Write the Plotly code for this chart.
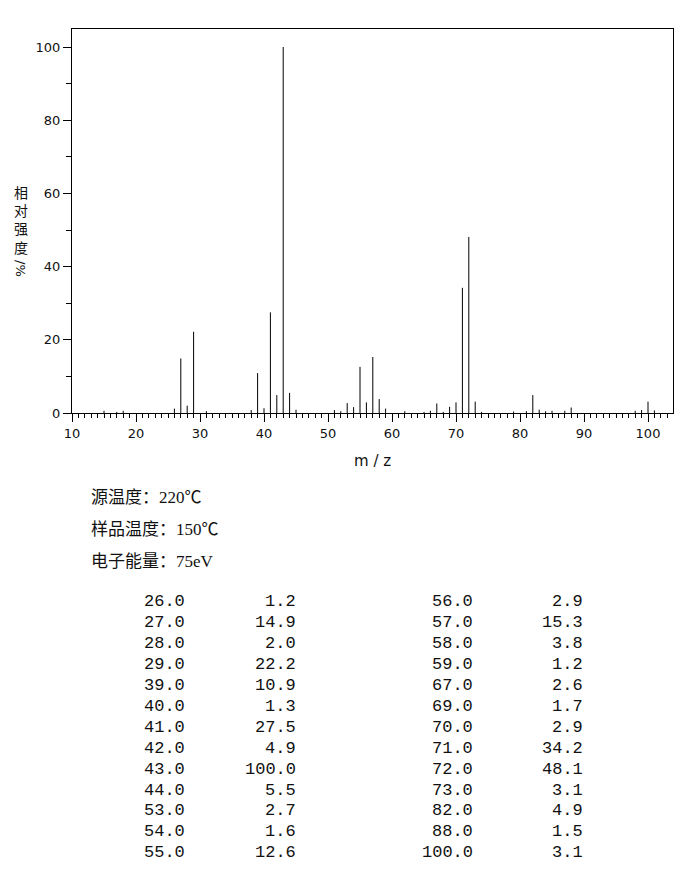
import plotly.graph_objects as go

# ---- data ----
table_mz = [26.0, 27.0, 28.0, 29.0, 39.0, 40.0, 41.0, 42.0, 43.0, 44.0, 53.0, 54.0, 55.0,
            56.0, 57.0, 58.0, 59.0, 67.0, 69.0, 70.0, 71.0, 72.0, 73.0, 82.0, 88.0, 100.0]
table_int = [1.2, 14.9, 2.0, 22.2, 10.9, 1.3, 27.5, 4.9, 100.0, 5.5, 2.7, 1.6, 12.6,
             2.9, 15.3, 3.8, 1.2, 2.6, 1.7, 2.9, 34.2, 48.1, 3.1, 4.9, 1.5, 3.1]
# small peaks visible in the spectrum but not listed in the table (estimated)
minor_mz = [15, 17, 18, 31, 38, 45, 51, 52, 62, 65, 66, 68, 74, 79, 81, 83, 84, 85, 87, 98, 99, 101]
minor_int = [0.6, 0.3, 0.6, 0.5, 0.8, 0.9, 0.8, 0.5, 0.5, 0.3, 0.6, 0.3, 0.3, 0.4, 0.5, 0.9,
             0.5, 0.6, 0.6, 0.6, 0.8, 0.7]

x_ticks = [10, 20, 30, 40, 50, 60, 70, 80, 90, 100]
y_ticks = [0, 20, 40, 60, 80, 100]

info_lines = ["源温度：220℃", "样品温度：150℃", "电子能量：75eV"]
y_title_chars = ["相", "对", "强", "度"]
y_title_unit = "/%"
x_title = "m/z"

# ---- geometry (pixels, in the 696x893 window; page body has an 8px margin) ----
OFF = 8
W, H = 696 - OFF, 893 - OFF
L, R, T, B = 72, 673, 29, 413
PW, PH = R - L, B - T
X0, PX_PER_UNIT = 10, 6.4
Y_PX_PER_UNIT = 3.66


def px(xp):
    return (xp - L) / PW


def py(yp):
    return (B - yp) / PH


all_mz = table_mz + minor_mz
all_int = table_int + minor_int
xs, ys = [], []
for m, v in zip(all_mz, all_int):
    xs += [m, m, None]
    ys += [0, v, None]

fig = go.Figure()
fig.add_trace(go.Scatter(x=xs, y=ys, mode="lines",
                         line=dict(color="black", width=1),
                         hoverinfo="skip", showlegend=False))

axis_font = dict(family="DejaVu Sans", size=13, color="#111")
fig.update_xaxes(range=[X0, X0 + PW / PX_PER_UNIT], tickvals=x_ticks,
                 ticks="outside", ticklen=8, tickwidth=1, tickcolor="black",
                 showline=True, linecolor="black", linewidth=1, mirror=True,
                 showgrid=False, zeroline=False, tickfont=axis_font,
                 minor=dict(dtick=1, tick0=0, ticks="outside", ticklen=4,
                            tickwidth=1, tickcolor="black", showgrid=False))
fig.update_yaxes(range=[0, PH / Y_PX_PER_UNIT], tickvals=y_ticks,
                 ticks="outside", ticklen=8, tickwidth=1, tickcolor="black",
                 showline=True, linecolor="black", linewidth=1, mirror=True,
                 showgrid=False, zeroline=False, tickfont=axis_font,
                 minor=dict(dtick=20, tick0=10, ticks="outside", ticklen=5,
                            tickwidth=1, tickcolor="black", showgrid=False))

ann = []
cjk = "Noto Sans CJK SC"
mixed = "Liberation Serif, Noto Sans CJK SC"
# y title: stacked characters, then the rotated unit
ann.append(dict(x=px(21), y=py(180), xref="paper", yref="paper",
                text="<br>".join(y_title_chars), showarrow=False,
                font=dict(family=cjk, size=14, color="#111"),
                xanchor="center", yanchor="top"))
ann.append(dict(x=px(21), y=py(268), xref="paper", yref="paper",
                text=y_title_unit, showarrow=False, textangle=90,
                font=dict(family="DejaVu Sans", size=13, color="#111"),
                xanchor="center", yanchor="middle"))
# x title
ann.append(dict(x=px(372), y=py(461), xref="paper", yref="paper",
                text=x_title.replace("/", " / "), showarrow=False,
                font=dict(family="DejaVu Sans", size=15, color="#111"),
                xanchor="center", yanchor="middle"))
# info lines
for i, line in enumerate(info_lines):
    ann.append(dict(x=px(89), y=py(497 + 32 * i), xref="paper", yref="paper",
                    text=line, showarrow=False,
                    font=dict(family=mixed, size=17, color="#111"),
                    xanchor="left", yanchor="middle"))

# table
mono = dict(family="Liberation Mono", size=17, color="#111")
n_left = 13
col_right = [(187, 298), (475, 585)]
for i, (m, v) in enumerate(zip(table_mz, table_int)):
    col = 0 if i < n_left else 1
    row = i if i < n_left else i - n_left
    yy = py(601 + 21 * row)
    ann.append(dict(x=px(col_right[col][0]), y=yy, xref="paper", yref="paper",
                    text=f"{m:.1f}", showarrow=False, font=mono,
                    xanchor="right", yanchor="middle"))
    ann.append(dict(x=px(col_right[col][1]), y=yy, xref="paper", yref="paper",
                    text=f"{v:.1f}", showarrow=False, font=mono,
                    xanchor="right", yanchor="middle"))

fig.update_layout(width=W, height=H, autosize=False,
                  margin=dict(l=L - OFF, r=W - (R - OFF), t=T - OFF, b=H - (B - OFF), pad=0),
                  plot_bgcolor="white", paper_bgcolor="white",
                  annotations=ann)

fig.write_html("out.html")
